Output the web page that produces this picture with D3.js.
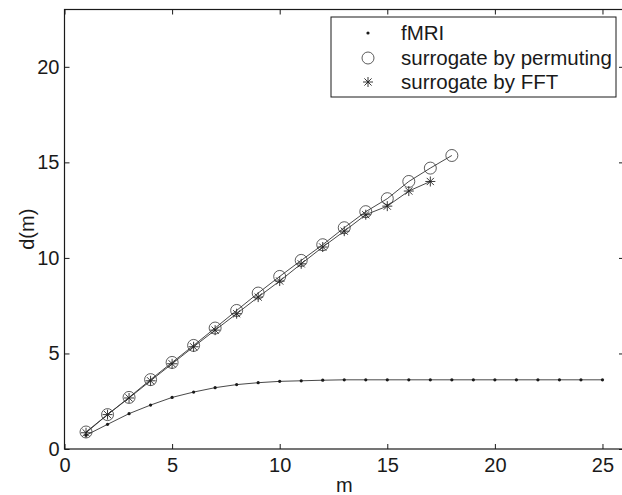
<!DOCTYPE html>
<html>
<head>
<meta charset="utf-8">
<script src="https://cdn.jsdelivr.net/npm/d3@7"></script>
<style>
  body { margin: 0; background: #fff; }
  text { font-family: "Liberation Sans", Arial, Helvetica, sans-serif; fill: #1a1a1a; }
</style>
</head>
<body>
<div class="chart"></div>
<script>
  // values
  var mFmri = d3.range(1, 26);
  var fmri = [0.72, 1.29, 1.85, 2.30, 2.70, 2.98, 3.21, 3.37, 3.47, 3.54, 3.57, 3.60, 3.62,
              3.62, 3.62, 3.62, 3.62, 3.62, 3.62, 3.62, 3.62, 3.62, 3.62, 3.62, 3.62];
  var mPerm = d3.range(1, 19);
  var permuting = [0.89, 1.80, 2.70, 3.63, 4.53, 5.42, 6.33, 7.25, 8.16, 9.03, 9.87, 10.69,
                   11.58, 12.42, 13.10, 14.00, 14.70, 15.36];
  var mFft = d3.range(1, 18);
  var fft = [0.85, 1.80, 2.67, 3.57, 4.46, 5.35, 6.22, 7.08, 7.95, 8.79, 9.69, 10.57,
             11.40, 12.26, 12.71, 13.50, 14.00];
  var xTicks = [0, 5, 10, 15, 20, 25];
  var yTicks = [0, 5, 10, 15, 20];
  var legendLabels = ['fMRI', 'surrogate by permuting', 'surrogate by FFT'];

  var width = 622;
  var height = 495;

  var svg = d3.select('.chart')
    .append('svg')
    .attr('width', width)
    .attr('height', height);

  var x = d3.scaleLinear().domain([0, 26]).range([64.5, 624]);
  var y = d3.scaleLinear().domain([0, 23]).range([449, 9.5]);

  var ink = '#1a1a1a';

  // frame
  svg.append('rect')
    .attr('x', x(0)).attr('y', y(23))
    .attr('width', x(26) - x(0)).attr('height', y(0) - y(23))
    .attr('fill', 'none').attr('stroke', ink).attr('stroke-width', 1.2);

  // axes with inward ticks (matlab style)
  var xAxis = svg.append('g').attr('transform', 'translate(0,' + y(0) + ')')
    .call(d3.axisBottom(x).tickValues(xTicks).tickSizeInner(-5).tickSizeOuter(0).tickPadding(9));
  var xTop = svg.append('g').attr('transform', 'translate(0,' + y(23) + ')')
    .call(d3.axisTop(x).tickValues(xTicks).tickSizeInner(-5).tickSizeOuter(0).tickFormat(''));
  var yAxis = svg.append('g').attr('transform', 'translate(' + x(0) + ',0)')
    .call(d3.axisLeft(y).tickValues(yTicks).tickSizeInner(-5).tickSizeOuter(0).tickPadding(5));
  var yRight = svg.append('g').attr('transform', 'translate(' + x(26) + ',0)')
    .call(d3.axisRight(y).tickValues(yTicks).tickSizeInner(-5).tickSizeOuter(0).tickFormat(''));

  [xAxis, xTop, yAxis, yRight].forEach(function(g) {
    g.select('.domain').remove();
    g.selectAll('line').attr('stroke', ink).attr('stroke-width', 1);
    g.selectAll('text').style('font-size', '20px').attr('fill', ink)
      .style('font-family', '"Liberation Sans", Arial, sans-serif');
  });

  svg.append('text')
    .attr('x', (x(0) + x(26)) / 2).attr('y', 492)
    .attr('text-anchor', 'middle').style('font-size', '20px')
    .text('m');
  svg.append('text')
    .attr('transform', 'translate(34,' + y(11.5) + ') rotate(-90)')
    .attr('text-anchor', 'middle').style('font-size', '20px')
    .text('d(m)');

  var line = d3.line()
    .x(function(d) { return x(d[0]); })
    .y(function(d) { return y(d[1]); });

  function pairs(ms, vs) {
    return ms.map(function(m, i) { return [m, vs[i]]; });
  }

  var dFmri = pairs(mFmri, fmri);
  var dPerm = pairs(mPerm, permuting);
  var dFft = pairs(mFft, fft);

  [dFmri, dPerm, dFft].forEach(function(d) {
    svg.append('path').datum(d)
      .attr('d', line)
      .attr('fill', 'none')
      .attr('stroke', '#333')
      .attr('stroke-width', 0.9);
  });

  // markers
  function dot(g, cx, cy) {
    g.append('circle').attr('cx', cx).attr('cy', cy).attr('r', 1.6).attr('fill', ink);
  }
  function ring(g, cx, cy) {
    g.append('circle').attr('cx', cx).attr('cy', cy).attr('r', 6)
      .attr('fill', 'none').attr('stroke', '#333').attr('stroke-width', 0.8);
  }
  function star(g, cx, cy) {
    var s = 5, t = 3.6;
    var segs = [[-s, 0, s, 0], [0, -s, 0, s], [-t, -t, t, t], [-t, t, t, -t]];
    segs.forEach(function(p) {
      g.append('line')
        .attr('x1', cx + p[0]).attr('y1', cy + p[1])
        .attr('x2', cx + p[2]).attr('y2', cy + p[3])
        .attr('stroke', '#222').attr('stroke-width', 0.9);
    });
  }

  var marks = svg.append('g');
  dFmri.forEach(function(d) { dot(marks, x(d[0]), y(d[1])); });
  dPerm.forEach(function(d) { ring(marks, x(d[0]), y(d[1])); });
  dFft.forEach(function(d) { star(marks, x(d[0]), y(d[1])); });

  // legend
  var lg = svg.append('g');
  lg.append('rect')
    .attr('x', 331).attr('y', 17).attr('width', 285).attr('height', 80)
    .attr('fill', '#fff').attr('stroke', ink).attr('stroke-width', 1);
  var rowY = [33, 58, 82];
  var drawers = [dot, ring, star];
  legendLabels.forEach(function(lbl, i) {
    drawers[i](lg, 368, rowY[i]);
    lg.append('text')
      .attr('x', 401).attr('y', rowY[i] + 7)
      .style('font-size', '20.5px')
      .text(lbl);
  });
</script>
</body>
</html>
